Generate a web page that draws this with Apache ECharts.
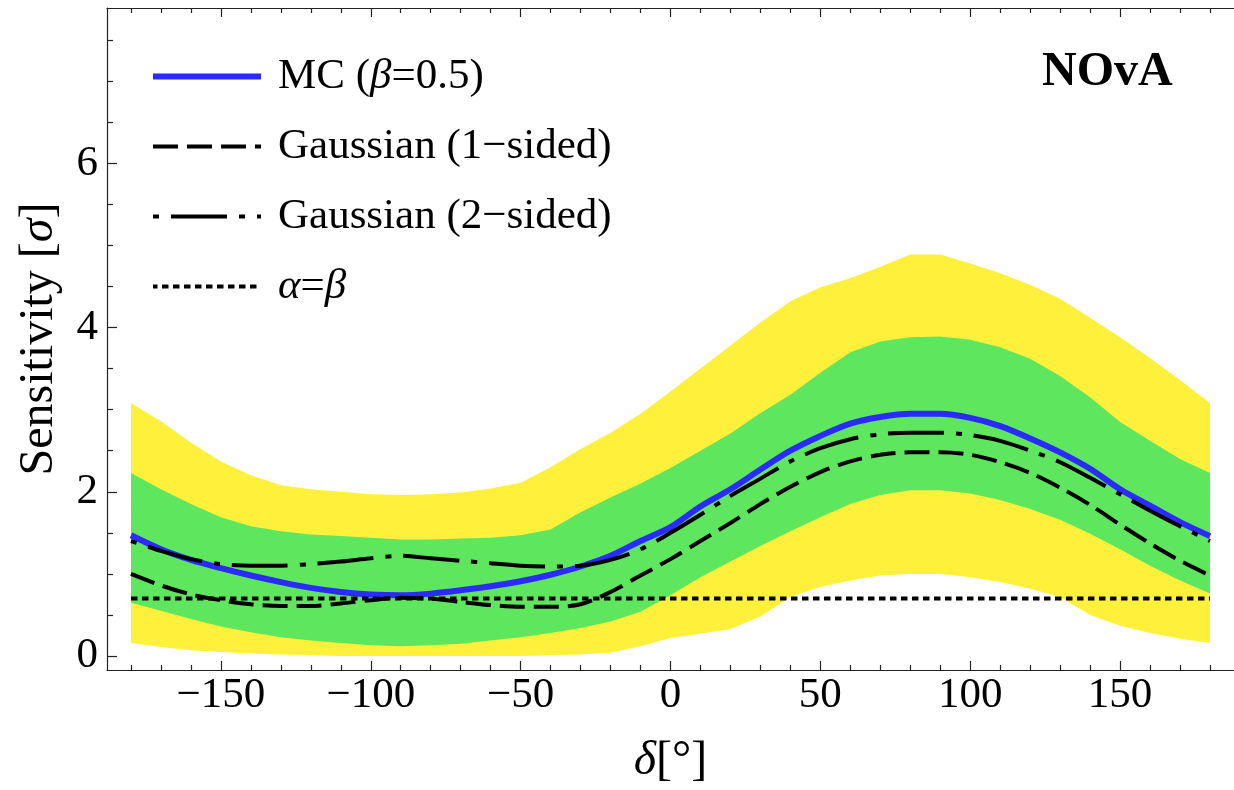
<!DOCTYPE html>
<html><head><meta charset="utf-8">
<script src="https://cdn.jsdelivr.net/npm/echarts@6/dist/echarts.min.js"></script>
<style>html,body{margin:0;padding:0;background:#fff}#c{width:1234px;height:790px}</style>
</head><body><div id="c"></div>
<script>
// ---- data ----
const delta = [-180,-170,-160,-150,-140,-130,-120,-110,-100,-90,-80,-70,-60,-50,-40,-30,-20,-10,0,10,20,30,40,50,60,70,80,90,100,110,120,130,140,150,160,170,180];
const yellowTop = [3.08,2.86,2.60,2.37,2.20,2.08,2.03,2.00,1.97,1.96,1.97,1.99,2.04,2.11,2.30,2.52,2.72,2.95,3.22,3.50,3.78,4.06,4.32,4.49,4.60,4.74,4.89,4.89,4.78,4.66,4.52,4.35,4.12,3.88,3.63,3.36,3.08];
const yellowBot = [0.16,0.11,0.07,0.05,0.03,0.02,0.01,0.00,0.00,0.00,0.00,0.00,0.00,0.00,0.01,0.02,0.04,0.12,0.22,0.27,0.33,0.48,0.72,0.84,0.92,0.98,1.00,1.00,0.96,0.90,0.82,0.72,0.50,0.37,0.28,0.21,0.16];
const greenTop = [2.23,2.03,1.85,1.69,1.58,1.52,1.48,1.46,1.44,1.42,1.42,1.43,1.44,1.47,1.54,1.75,1.93,2.10,2.29,2.50,2.71,2.96,3.18,3.45,3.70,3.83,3.88,3.89,3.85,3.76,3.62,3.41,3.15,2.85,2.62,2.40,2.23];
const greenBot = [0.65,0.55,0.45,0.36,0.29,0.23,0.19,0.16,0.13,0.12,0.13,0.15,0.19,0.23,0.28,0.34,0.42,0.54,0.74,0.96,1.15,1.34,1.52,1.69,1.85,1.96,2.02,2.02,1.98,1.90,1.79,1.66,1.49,1.30,1.10,0.92,0.76];
const mc = [1.47,1.30,1.17,1.07,0.98,0.90,0.83,0.78,0.75,0.74,0.76,0.80,0.85,0.91,0.99,1.09,1.22,1.40,1.57,1.82,2.03,2.27,2.50,2.68,2.83,2.91,2.95,2.95,2.90,2.80,2.65,2.48,2.28,2.03,1.83,1.63,1.46];
const gauss1 = [1.00,0.86,0.75,0.68,0.63,0.61,0.61,0.64,0.68,0.71,0.70,0.66,0.62,0.60,0.60,0.63,0.78,0.98,1.18,1.40,1.62,1.85,2.06,2.24,2.37,2.45,2.48,2.48,2.45,2.36,2.23,2.05,1.84,1.60,1.37,1.16,0.98];
const gauss2 = [1.40,1.28,1.18,1.12,1.10,1.10,1.12,1.15,1.19,1.22,1.19,1.16,1.13,1.10,1.09,1.10,1.17,1.30,1.50,1.72,1.95,2.16,2.37,2.53,2.64,2.70,2.72,2.72,2.69,2.62,2.50,2.36,2.17,1.97,1.77,1.58,1.40];
const alphaBetaX = [-180, 180];
const alphaBetaY = [0.70, 0.70];
const xMajorTicks = [-150,-100,-50,0,50,100,150];
const xMinorTicks = [-180,-170,-160,-140,-130,-120,-110,-90,-80,-70,-60,-40,-30,-20,-10,10,20,30,40,60,70,80,90,110,120,130,140,160,170,180];
const yMajorTicks = [0,2,4,6];
const yMinorTicks = [0.5,1,1.5,2.5,3,3.5,4.5,5,5.5,6.5,7,7.5];
const names = ['MC (β=0.5)','Gaussian (1−sided)','Gaussian (2−sided)','α=β'];

// ---- chart ----
const FONT = 'Liberation Serif';
const AX = '#222';
const pairs = (xs, ys) => xs.map((d, i) => [d, ys[i]]);
const fmt = v => (v < 0 ? '\u2212' + Math.abs(v) : String(v));
const mkRich = s => ({
  n: {fontFamily: FONT, fontSize: s, color: '#000'},
  i: {fontFamily: FONT, fontSize: s, color: '#000', fontStyle: 'italic'}
});
const legendRich = {
  'MC (β=0.5)': '{n|MC (}{i|β}{n|=0.5)}',
  'Gaussian (1−sided)': '{n|Gaussian (1−sided)}',
  'Gaussian (2−sided)': '{n|Gaussian (2−sided)}',
  'α=β': '{i|α}{n|=}{i|β}'
};
const xBase = {type: 'value', min: -188, max: 188, splitLine: {show: false}, gridIndex: 0};
const yBase = {type: 'value', min: -0.17, max: 7.89, splitLine: {show: false}, gridIndex: 0};
const noLine = {show: false, onZero: false};
const axLine = {show: true, onZero: false, lineStyle: {color: AX, width: 1.2}};

function band(top, bot, color) {
  return {
    type: 'custom', silent: true, z: 1,
    data: delta.map((d, i) => [d, top[i], bot[i]]),
    encode: {x: 0, y: [1, 2]},
    renderItem: (params, api) => {
      if (params.dataIndex !== 0) return null;
      const pts = [];
      for (let i = 0; i < delta.length; i++) pts.push(api.coord([delta[i], top[i]]));
      for (let i = delta.length - 1; i >= 0; i--) pts.push(api.coord([delta[i], bot[i]]));
      return {type: 'polygon', shape: {points: pts}, style: {fill: color}};
    }
  };
}

const chart = echarts.init(document.getElementById('c'), null, {renderer: 'canvas'});
chart.setOption({
  animation: false,
  backgroundColor: '#fff',
  grid: {left: 107, right: -16, top: 8, bottom: 113, containLabel: false},
  title: {text: 'NOvA', left: 1042, top: 49, padding: 0,
    textStyle: {fontFamily: FONT, fontSize: 48, fontWeight: 'bold', color: '#000', lineHeight: 48}},
  legend: {
    data: [
      {name: names[0], lineStyle: {width: 6}},
      {name: names[1], lineStyle: {width: 4}},
      {name: names[2], lineStyle: {width: 4}},
      {name: names[3], lineStyle: {width: 4}}
    ],
    left: 150, top: 55, orient: 'vertical', padding: 0,
    itemWidth: 108, itemHeight: 14, itemGap: 27, selectedMode: false,
    itemStyle: {opacity: 0},
    formatter: n => legendRich[n],
    textStyle: {fontFamily: FONT, fontSize: 43, color: '#000', lineHeight: 40, padding: [0, 0, 0, 12], rich: mkRich(43)}
  },
  xAxis: [
    Object.assign({}, xBase, {position: 'bottom',
      name: '{i|δ}{n|[°]}', nameLocation: 'middle', nameGap: 67,
      nameTextStyle: {rich: mkRich(48)},
      axisLine: axLine,
      axisTick: {show: true, inside: true, length: 9, customValues: xMajorTicks, lineStyle: {color: AX, width: 1.2}},
      axisLabel: {show: true, customValues: xMajorTicks, formatter: fmt, margin: 4,
        fontFamily: FONT, fontSize: 43, color: '#000'}}),
    Object.assign({}, xBase, {position: 'bottom', axisLine: noLine,
      axisTick: {show: true, inside: true, length: 5, customValues: xMinorTicks, lineStyle: {color: AX, width: 1.2}},
      axisLabel: {show: false}}),
    Object.assign({}, xBase, {position: 'top',
      axisLine: axLine,
      axisTick: {show: true, inside: true, length: 9, customValues: xMajorTicks, lineStyle: {color: AX, width: 1.2}},
      axisLabel: {show: false}}),
    Object.assign({}, xBase, {position: 'top', axisLine: noLine,
      axisTick: {show: true, inside: true, length: 5, customValues: xMinorTicks, lineStyle: {color: AX, width: 1.2}},
      axisLabel: {show: false}})
  ],
  yAxis: [
    Object.assign({}, yBase, {position: 'left',
      name: '{n|Sensitivity [}{i|σ}{n|]}', nameLocation: 'middle', nameGap: 44, nameRotate: 90,
      nameTextStyle: {rich: mkRich(48)},
      axisLine: axLine,
      axisTick: {show: true, inside: true, length: 10, customValues: yMajorTicks, lineStyle: {color: AX, width: 1.2}},
      axisLabel: {show: true, customValues: yMajorTicks, formatter: fmt, margin: 9,
        fontFamily: FONT, fontSize: 43, color: '#000'}}),
    Object.assign({}, yBase, {position: 'left', axisLine: noLine,
      axisTick: {show: true, inside: true, length: 6, customValues: yMinorTicks, lineStyle: {color: AX, width: 1.2}},
      axisLabel: {show: false}})
  ],
  series: [
    band(yellowTop, yellowBot, '#fff03c'),
    band(greenTop, greenBot, '#5ee65f'),
    {type: 'line', name: names[0], z: 3, data: pairs(delta, mc), symbol: 'none', smooth: 0.3, color: '#2b2bff',
      lineStyle: {color: '#2b2bff', width: 6}},
    {type: 'line', name: names[1], z: 3, data: pairs(delta, gauss1), symbol: 'none', smooth: 0.3, color: '#000',
      lineStyle: {color: '#000', width: 4, type: [25, 9]}},
    {type: 'line', name: names[2], z: 3, data: pairs(delta, gauss2), symbol: 'none', smooth: 0.3, color: '#000',
      lineStyle: {color: '#000', width: 4, type: [56, 12, 6, 12], dashOffset: 68}},
    {type: 'line', name: names[3], z: 3, data: pairs(alphaBetaX, alphaBetaY), symbol: 'none', color: '#000',
      lineStyle: {color: '#000', width: 4, type: [6.5, 4.5]}}
  ]
});
</script></body></html>
